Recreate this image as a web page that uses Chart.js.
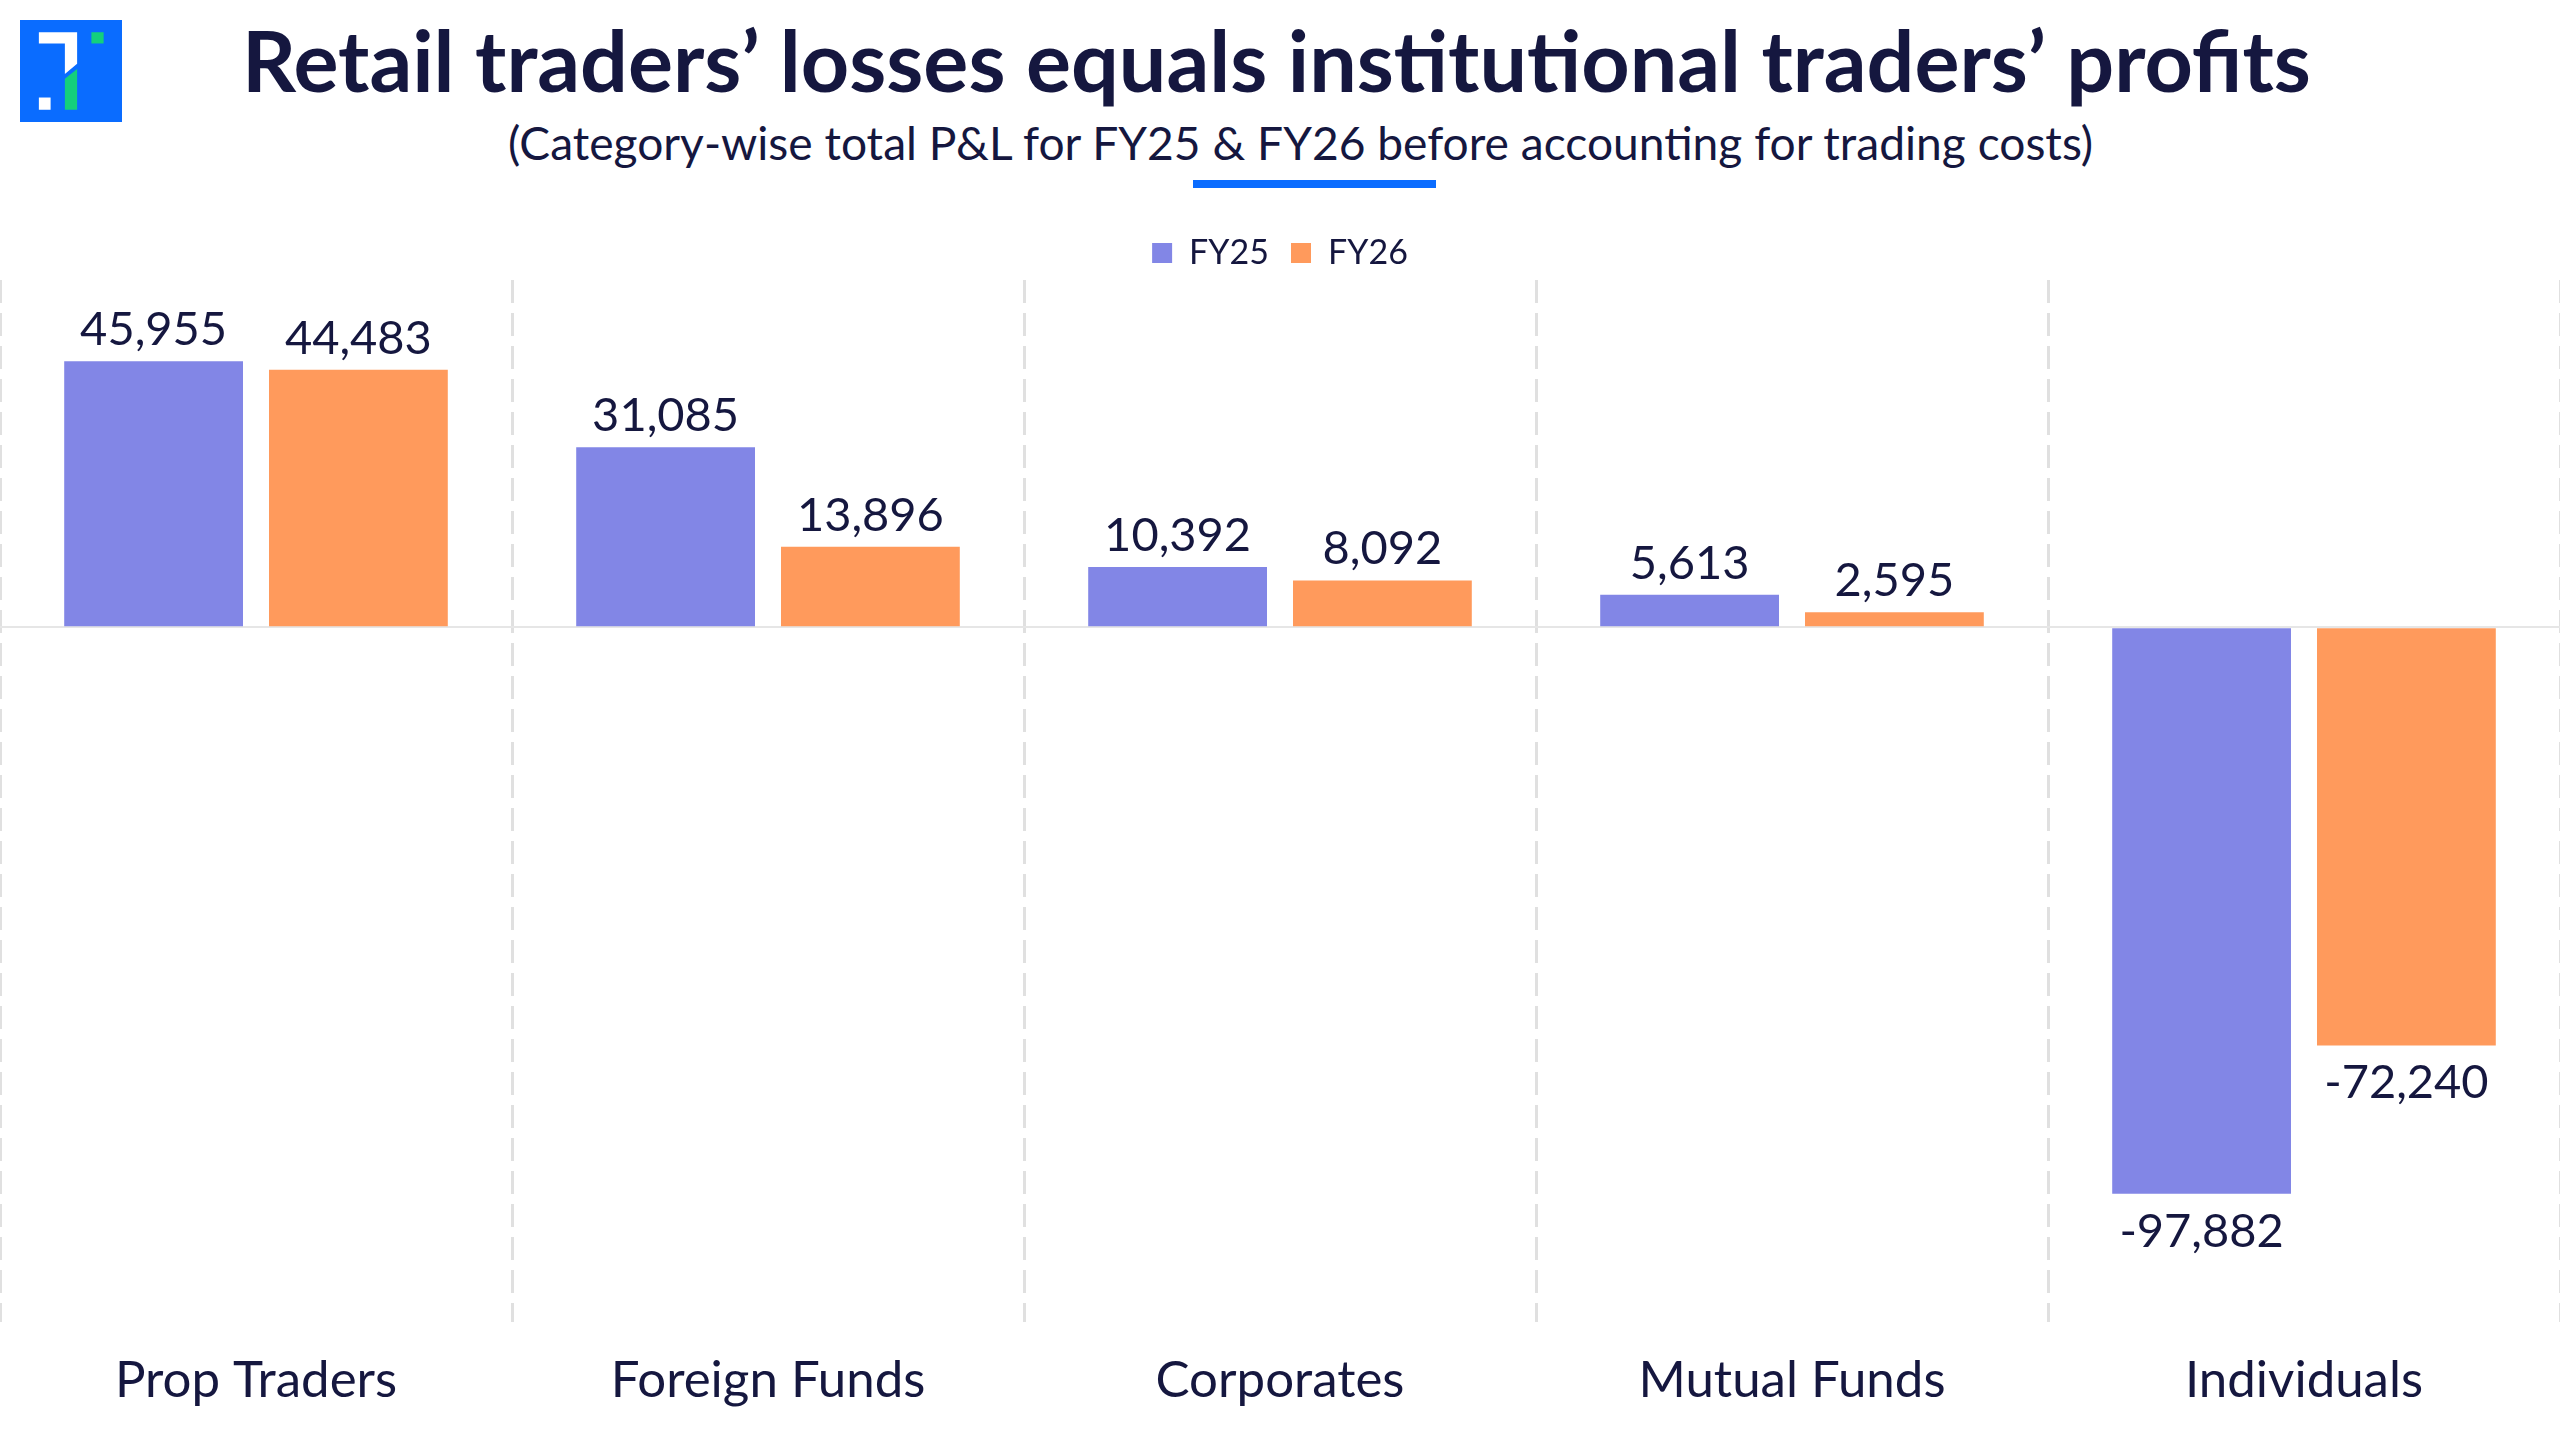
<!DOCTYPE html>
<html><head><meta charset="utf-8">
<script src="https://cdn.jsdelivr.net/npm/chart.js@4.4.1/dist/chart.umd.min.js"></script>
<style>
html,body{margin:0;padding:0;background:#fff;width:2560px;height:1440px;overflow:hidden;font-family:Lato,sans-serif;}
#logo{position:absolute;left:20px;top:20px;width:102px;height:102px;}
.t{position:absolute;white-space:nowrap;line-height:1;color:#15173f;font-family:Lato,sans-serif;}
#title{font-weight:700;}
#underline{position:absolute;left:1193px;top:180px;width:243px;height:8px;background:#0a6cff;}
#wrap{position:absolute;left:0;top:200px;width:2560px;height:1239px;}
</style></head><body>
<svg id="logo" viewBox="0 0 100 100" preserveAspectRatio="none">
<rect x="0" y="0" width="100" height="100" fill="#0a6cff"/>
<polygon points="18.5,12 56,12 56,43 44,53 44,23 18.5,23" fill="#ffffff"/>
<rect x="18.5" y="76" width="11.5" height="12" fill="#ffffff"/>
<polygon points="44,57.5 56,48 56,88 44,88" fill="#14d07c"/>
<rect x="70" y="12" width="12" height="11" fill="#14d07c"/>
</svg>
<div id="title" class="t">Retail traders’ losses equals institutional traders’ profits</div>
<div id="subtitle" class="t">(Category-wise total P&amp;L for FY25 &amp; FY26 before accounting for trading costs)</div>
<div id="underline"></div>
<div id="wrap"><canvas id="c"></canvas></div>
<script>
const categories = ['Prop Traders', 'Foreign Funds', 'Corporates', 'Mutual Funds', 'Individuals'];
const fy25 = [45955, 31085, 10392, 5613, -97882];
const fy26 = [44483, 13896, 8092, 2595, -72240];
const seriesNames = ['FY25', 'FY26'];
const yMin = -120000;
const yMax = 60000;

const TEXT = '#15173f';

function fitText(id, weight, left, right, baseline) {
  const el = document.getElementById(id);
  const c = document.createElement('canvas').getContext('2d');
  c.font = weight + ' 100px Lato';
  const w = c.measureText(el.textContent).width;
  const size = 100 * (right - left) / w;
  el.style.fontSize = size + 'px';
  el.style.left = left + 'px';
  el.style.top = (baseline - 0.887 * size) + 'px';
}
fitText('title', '700', 242, 2312, 93);
fitText('subtitle', '400', 508, 2097, 160);

const valueLabels = {
  id: 'valueLabels',
  afterDatasetsDraw(chart) {
    const ctx = chart.ctx;
    ctx.save();
    ctx.font = '47px Lato';
    ctx.fillStyle = TEXT;
    ctx.textAlign = 'center';
    ctx.textBaseline = 'alphabetic';
    chart.data.datasets.forEach((ds, i) => {
      chart.getDatasetMeta(i).data.forEach((bar, j) => {
        const v = ds.data[j];
        const txt = v.toLocaleString('en-US');
        if (v >= 0) ctx.fillText(txt, bar.x, bar.y - 16);
        else ctx.fillText(txt, bar.x, bar.y + 53);
      });
    });
    ctx.restore();
  }
};

new Chart(document.getElementById('c'), {
  type: 'bar',
  data: {
    labels: categories,
    datasets: [
      { label: seriesNames[0], data: fy25, backgroundColor: '#8286e6', categoryPercentage: 0.8, barPercentage: 0.873 },
      { label: seriesNames[1], data: fy26, backgroundColor: '#ff9a5c', categoryPercentage: 0.8, barPercentage: 0.873 }
    ]
  },
  options: {
    responsive: true,
    maintainAspectRatio: false,
    animation: false,
    layout: { padding: { top: 14, bottom: 0, left: 0, right: 0 } },
    plugins: {
      legend: {
        position: 'top',
        labels: { boxWidth: 20, boxHeight: 20, padding: 22, color: TEXT, font: { family: 'Lato', size: 34 } }
      },
      tooltip: { enabled: false }
    },
    scales: {
      x: {
        grid: { display: true, offset: true, drawTicks: false, color: '#e0e0e0', lineWidth: 3 },
        border: { display: false, dash: [23, 10] },
        ticks: { color: TEXT, font: { family: 'Lato', size: 51 }, padding: 28 }
      },
      y: {
        min: yMin, max: yMax,
        ticks: { display: false, stepSize: 20000 },
        grid: { drawTicks: false, lineWidth: 2, color: (c) => c.tick && c.tick.value === 0 ? '#e6e6e6' : 'rgba(0,0,0,0)' },
        border: { display: false },
        afterFit: (s) => { s.width = 0; }
      }
    }
  },
  plugins: [valueLabels]
});
</script>
</body></html>
